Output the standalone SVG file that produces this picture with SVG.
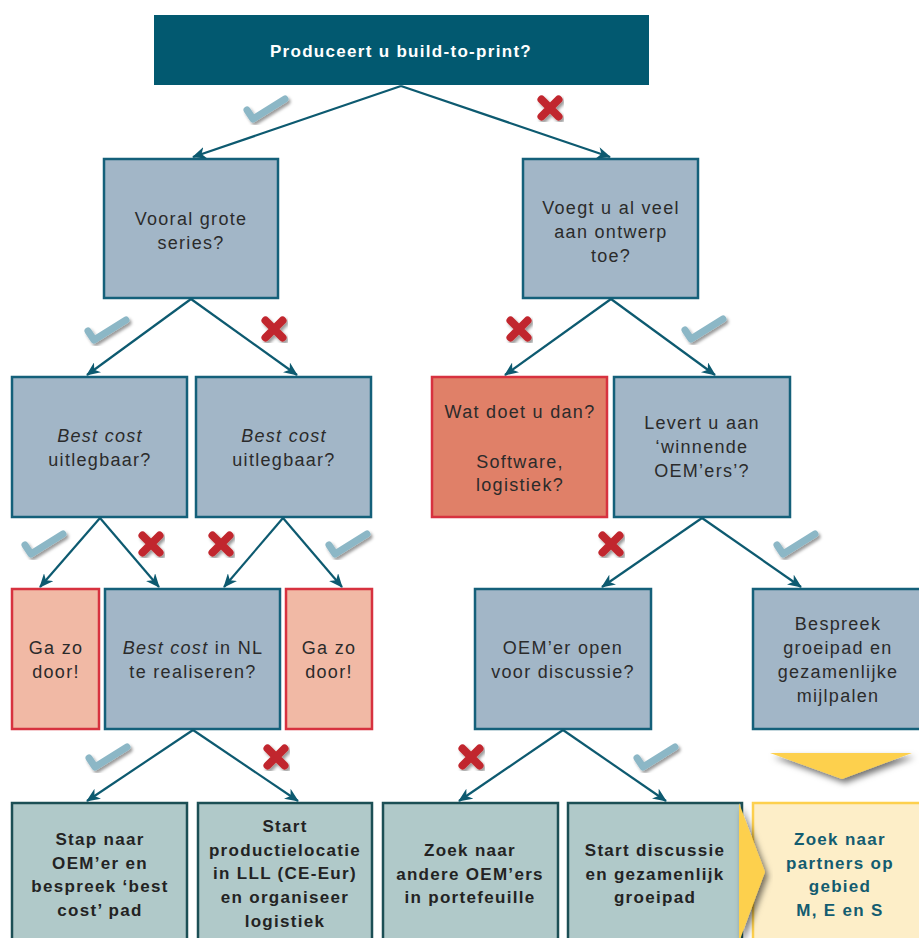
<svg xmlns="http://www.w3.org/2000/svg" width="919" height="938" viewBox="0 0 919 938">
  <defs>
    <style>
      .q { font-family: "Liberation Sans", Arial, sans-serif; font-size: 18px; letter-spacing: 1.3px; fill: #2b2b2b; text-anchor: middle; }
      .q .i { font-style: italic; }
      .b { font-family: "Liberation Sans", Arial, sans-serif; font-size: 17px; font-weight: bold; letter-spacing: 1.3px; fill: #232323; text-anchor: middle; }
      .t { font-family: "Liberation Sans", Arial, sans-serif; font-size: 17px; font-weight: bold; letter-spacing: 1.3px; fill: #ffffff; text-anchor: middle; }
      .n { font-family: "Liberation Sans", Arial, sans-serif; font-size: 17px; font-weight: bold; letter-spacing: 1.3px; fill: #135c70; text-anchor: middle; }
      .top { fill: #025970; }
      .qbox { fill: #a2b6c7; stroke: #14607a; stroke-width: 2.5; }
      .pink { fill: #f1b9a5; stroke: #d7323f; stroke-width: 2.5; }
      .red { fill: #e08068; stroke: #d7323f; stroke-width: 2.5; }
      .act { fill: #b0c9c9; stroke: #1c4f55; stroke-width: 2.5; }
      .gold { fill: #fdeec8; stroke: #fdd04e; stroke-width: 2.5; }
      .conn line { stroke: #0d5a70; stroke-width: 2.2; marker-end: url(#ah); }
      .chk { fill: none; stroke: #8cb7c6; stroke-width: 7; stroke-linecap: round; stroke-linejoin: round; }
      .crs { fill: none; stroke: #c1272d; stroke-width: 8; stroke-linecap: round; }
    </style>
    <marker id="ah" viewBox="0 0 14 12" refX="13" refY="6" markerWidth="14" markerHeight="12" markerUnits="userSpaceOnUse" orient="auto">
      <path d="M0,0 L14,6 L0,12 L4,6 z" fill="#0d5a70"/>
    </marker>
    <filter id="sh" x="-30%" y="-30%" width="160%" height="160%">
      <feDropShadow dx="2" dy="2.5" stdDeviation="1.5" flood-color="#000" flood-opacity="0.4"/>
    </filter>
    <filter id="sh2" x="-30%" y="-50%" width="160%" height="200%">
      <feDropShadow dx="3" dy="4" stdDeviation="3" flood-color="#000" flood-opacity="0.55"/>
    </filter>
    <g id="check" filter="url(#sh)">
      <path class="chk" d="M-19,1 L-13,10 L19,-10"/>
    </g>
    <g id="cross" filter="url(#sh)">
      <path class="crs" d="M-8.5,-8.5 L8.5,8.5 M8.5,-8.5 L-8.5,8.5"/>
    </g>
  </defs>

  <rect width="919" height="938" fill="#ffffff"/>

  <!-- question nodes -->
  <g id="n-build">
    <rect class="top" x="154" y="15" width="495" height="70"/>
    <text class="t" x="401" y="56.5">Produceert u build-to-print?</text>
  </g>
  <g id="n-series">
    <rect class="qbox" x="104" y="159" width="174" height="139"/>
    <text class="q" x="191" y="225">Vooral grote</text>
    <text class="q" x="191" y="249">series?</text>
  </g>
  <g id="n-ontwerp">
    <rect class="qbox" x="523" y="159" width="175" height="139"/>
    <text class="q" x="611" y="214">Voegt u al veel</text>
    <text class="q" x="611" y="238">aan ontwerp</text>
    <text class="q" x="611" y="262">toe?</text>
  </g>
  <g id="n-bc1">
    <rect class="qbox" x="12" y="377" width="175" height="140"/>
    <text class="q" x="100" y="442"><tspan class="i">Best cost</tspan></text>
    <text class="q" x="100" y="466">uitlegbaar?</text>
  </g>
  <g id="n-bc2">
    <rect class="qbox" x="196" y="377" width="175" height="140"/>
    <text class="q" x="284" y="442"><tspan class="i">Best cost</tspan></text>
    <text class="q" x="284" y="466">uitlegbaar?</text>
  </g>
  <g id="n-wat">
    <rect class="red" x="432" y="377" width="175" height="140"/>
    <text class="q" x="520" y="418">Wat doet u dan?</text>
    <text class="q" x="520" y="468">Software,</text>
    <text class="q" x="520" y="491">logistiek?</text>
  </g>
  <g id="n-winnend">
    <rect class="qbox" x="614" y="377" width="176" height="140"/>
    <text class="q" x="702" y="429">Levert u aan</text>
    <text class="q" x="702" y="453">‘winnende</text>
    <text class="q" x="702" y="477">OEM’ers’?</text>
  </g>
  <g id="n-ga1">
    <rect class="pink" x="12" y="589" width="87" height="140"/>
    <text class="q" x="56" y="654">Ga zo</text>
    <text class="q" x="56" y="678">door!</text>
  </g>
  <g id="n-nl">
    <rect class="qbox" x="105" y="589" width="175" height="140"/>
    <text class="q" x="193" y="654"><tspan class="i">Best cost</tspan> in NL</text>
    <text class="q" x="193" y="678">te realiseren?</text>
  </g>
  <g id="n-ga2">
    <rect class="pink" x="286" y="589" width="86" height="140"/>
    <text class="q" x="329" y="654">Ga zo</text>
    <text class="q" x="329" y="678">door!</text>
  </g>
  <g id="n-open">
    <rect class="qbox" x="475" y="589" width="176" height="140"/>
    <text class="q" x="563" y="654">OEM’er open</text>
    <text class="q" x="563" y="678">voor discussie?</text>
  </g>
  <g id="n-bespreek">
    <rect class="qbox" x="753" y="589" width="170" height="140"/>
    <text class="q" x="838" y="630">Bespreek</text>
    <text class="q" x="838" y="654">groeipad en</text>
    <text class="q" x="838" y="678">gezamenlijke</text>
    <text class="q" x="838" y="702">mijlpalen</text>
  </g>

  <!-- action nodes -->
  <g id="n-stap">
    <rect class="act" x="12" y="803" width="175" height="145"/>
    <text class="b" x="100" y="845">Stap naar</text>
    <text class="b" x="100" y="868.5">OEM’er en</text>
    <text class="b" x="100" y="892">bespreek ‘best</text>
    <text class="b" x="100" y="915.5">cost’ pad</text>
  </g>
  <g id="n-lll">
    <rect class="act" x="198" y="803" width="174" height="145"/>
    <text class="b" x="285" y="832">Start</text>
    <text class="b" x="285" y="855.5">productielocatie</text>
    <text class="b" x="285" y="879">in LLL (CE-Eur)</text>
    <text class="b" x="285" y="903">en organiseer</text>
    <text class="b" x="285" y="926.5">logistiek</text>
  </g>
  <g id="n-zoek">
    <rect class="act" x="383" y="803" width="175" height="145"/>
    <text class="b" x="470" y="856">Zoek naar</text>
    <text class="b" x="470" y="879.5">andere OEM’ers</text>
    <text class="b" x="470" y="903">in portefeuille</text>
  </g>
  <g id="n-discussie">
    <rect class="act" x="568" y="803" width="174" height="145"/>
    <text class="b" x="655" y="856">Start discussie</text>
    <text class="b" x="655" y="879.5">en gezamenlijk</text>
    <text class="b" x="655" y="903">groeipad</text>
  </g>
  <g id="n-partners">
    <rect class="gold" x="753" y="803" width="170" height="145"/>
    <text class="n" x="840" y="845">Zoek naar</text>
    <text class="n" x="840" y="868.5">partners op</text>
    <text class="n" x="840" y="892">gebied</text>
    <text class="n" x="840" y="915.5">M, E en S</text>
  </g>

  <!-- yellow pointers -->
  <g id="pointers" fill="#fdd04e">
    <polygon points="770,753 912,753 842,779" filter="url(#sh2)"/>
    <polygon points="739,803 765,872 739,942" filter="url(#sh2)"/>
  </g>

  <!-- connectors -->
  <g id="connectors" class="conn">
    <line x1="401" y1="86" x2="193" y2="157"/>
    <line x1="401" y1="86" x2="610" y2="157"/>
    <line x1="191" y1="299" x2="87" y2="375"/>
    <line x1="191" y1="299" x2="297" y2="375"/>
    <line x1="611" y1="299" x2="505" y2="375"/>
    <line x1="611" y1="299" x2="715" y2="375"/>
    <line x1="100" y1="518" x2="40" y2="587"/>
    <line x1="100" y1="518" x2="159" y2="587"/>
    <line x1="283" y1="518" x2="224" y2="587"/>
    <line x1="283" y1="518" x2="342" y2="587"/>
    <line x1="702" y1="518" x2="602" y2="587"/>
    <line x1="702" y1="518" x2="801" y2="587"/>
    <line x1="193" y1="730" x2="87" y2="801"/>
    <line x1="193" y1="730" x2="298" y2="801"/>
    <line x1="563" y1="730" x2="459" y2="801"/>
    <line x1="563" y1="730" x2="666" y2="801"/>
  </g>

  <!-- yes / no marks -->
  <g id="marks">
    <use href="#check" x="266" y="109"/>
    <use href="#cross" x="550" y="108"/>
    <use href="#check" x="107" y="330"/>
    <use href="#cross" x="274" y="329"/>
    <use href="#cross" x="519" y="329"/>
    <use href="#check" x="704" y="329"/>
    <use href="#check" x="44" y="544"/>
    <use href="#cross" x="151" y="544"/>
    <use href="#cross" x="221" y="544"/>
    <use href="#check" x="348" y="544"/>
    <use href="#cross" x="611" y="544"/>
    <use href="#check" x="796" y="544"/>
    <use href="#check" x="108" y="757"/>
    <use href="#cross" x="276" y="757"/>
    <use href="#cross" x="471" y="757"/>
    <use href="#check" x="656" y="757"/>
  </g>
</svg>
